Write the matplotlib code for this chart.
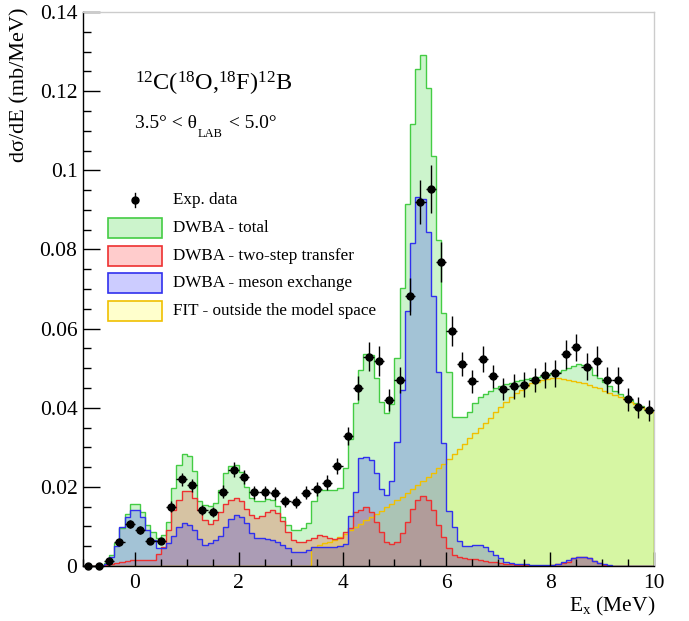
import matplotlib
matplotlib.use('Agg')
import matplotlib.pyplot as plt
import numpy as np
from matplotlib.patches import Rectangle
from matplotlib.ticker import MultipleLocator, FuncFormatter

plt.rcParams['font.family'] = ['Liberation Serif', 'DejaVu Serif']
plt.rcParams['mathtext.fontset'] = 'custom'
plt.rcParams['mathtext.rm'] = 'Liberation Serif'
plt.rcParams['mathtext.it'] = 'Liberation Serif:italic'

# ---------------- data ----------------
bin_lo = -1.0
bin_width = 0.1

dwba_total = [
    0.0, 0.0, 0.0001, 0.0003, 0.0008,
    0.0028, 0.0058, 0.0096, 0.0131, 0.0157,
    0.0157, 0.0136, 0.0104, 0.0085, 0.0072,
    0.0078, 0.0110, 0.0198, 0.0254, 0.0282,
    0.0278, 0.0240, 0.0165, 0.0155, 0.0152,
    0.0158, 0.0192, 0.0235, 0.0252, 0.0254,
    0.0238, 0.0200, 0.0171, 0.0163, 0.0165,
    0.0169, 0.0167, 0.0152, 0.0125, 0.0103,
    0.0092, 0.0091, 0.0097, 0.0108, 0.0165,
    0.0192, 0.0193, 0.0192, 0.0191, 0.0198,
    0.0247, 0.0322, 0.0411, 0.0495, 0.0537,
    0.0533, 0.0474, 0.0415, 0.0386, 0.0410,
    0.0525, 0.0702, 0.0914, 0.1116, 0.1255,
    0.1291, 0.1209, 0.1036, 0.0824, 0.0640,
    0.0491, 0.0377, 0.0377, 0.0377, 0.0390,
    0.0411, 0.0426, 0.0435, 0.0442, 0.0449,
    0.0455, 0.0460, 0.0463, 0.0467, 0.0470,
    0.0473, 0.0476, 0.0478, 0.0481, 0.0485,
    0.0487, 0.0491, 0.0495, 0.0500, 0.0505,
    0.0510, 0.0508, 0.0500, 0.0483, 0.0474,
    0.0466, 0.0455, 0.0441, 0.0434, 0.0426,
    0.0420, 0.0411, 0.0405, 0.0398, 0.0391,
]

dwba_twostep = [
    0.0, 0.0, 0.0, 0.0, 0.0002,
    0.0004, 0.0007, 0.0011, 0.0013, 0.0015,
    0.0015, 0.0015, 0.0015, 0.0016, 0.0030,
    0.0049, 0.0091, 0.0142, 0.0168, 0.0190,
    0.0190, 0.0171, 0.0142, 0.0116, 0.0106,
    0.0116, 0.0137, 0.0156, 0.0168, 0.0172,
    0.0165, 0.0145, 0.0130, 0.0122, 0.0127,
    0.0136, 0.0142, 0.0133, 0.0114, 0.0087,
    0.0066, 0.0060, 0.0061, 0.0066, 0.0072,
    0.0078, 0.0077, 0.0072, 0.0068, 0.0072,
    0.0087, 0.0095, 0.0137, 0.0142, 0.0148,
    0.0137, 0.0112, 0.0087, 0.0061, 0.0055,
    0.0061, 0.0083, 0.0112, 0.0143, 0.0167,
    0.0177, 0.0167, 0.0142, 0.0104, 0.0074,
    0.0045, 0.0028, 0.0022, 0.0019, 0.0018,
    0.0017, 0.0015, 0.0013, 0.0011, 0.0009,
    0.0007, 0.0005, 0.0004, 0.0003, 0.0003,
    0.0002, 0.0001, 0.0001, 0.0001, 0.0001,
    0.0002, 0.0004, 0.0007, 0.0011, 0.0019,
    0.0022, 0.0022, 0.0019, 0.0013, 0.0007,
    0.0003, 0.0001, 0.0001, 0.0001, 0.0001,
    0.0001, 0.0001, 0.0001, 0.0001, 0.0001,
]

dwba_meson = [
    0.0, 0.0, 0.0, 0.0, 0.0005,
    0.0024, 0.0051, 0.0098, 0.0123, 0.0142,
    0.0142, 0.0123, 0.0091, 0.0066, 0.0045,
    0.0045, 0.0057, 0.0077, 0.0098, 0.0108,
    0.0104, 0.0091, 0.0067, 0.0054, 0.0057,
    0.0066, 0.0077, 0.0098, 0.0118, 0.0129,
    0.0125, 0.0108, 0.0083, 0.0072, 0.0070,
    0.0068, 0.0066, 0.0061, 0.0053, 0.0045,
    0.0036, 0.0035, 0.0036, 0.0040, 0.0047,
    0.0049, 0.0049, 0.0047, 0.0047, 0.0050,
    0.0055, 0.0126, 0.0186, 0.0272, 0.0276,
    0.0268, 0.0234, 0.0194, 0.0180, 0.0216,
    0.0314, 0.0445, 0.0645, 0.0815, 0.0933,
    0.0928, 0.0845, 0.0682, 0.0491, 0.0310,
    0.0140, 0.0099, 0.0064, 0.0051, 0.0051,
    0.0053, 0.0053, 0.0047, 0.0039, 0.0028,
    0.0019, 0.0011, 0.0007, 0.0005, 0.0004,
    0.0004, 0.0003, 0.0003, 0.0002, 0.0002,
    0.0002, 0.0005, 0.0009, 0.0015, 0.0019,
    0.0022, 0.0022, 0.0019, 0.0013, 0.0008,
    0.0004, 0.0002, 0.0001, 0.0001, 0.0001,
    0.0001, 0.0001, 0.0001, 0.0001, 0.0001,
]

fit_outside = [
    0.0, 0.0, 0.0, 0.0, 0.0, 0.0, 0.0, 0.0, 0.0, 0.0,
    0.0, 0.0, 0.0, 0.0, 0.0, 0.0, 0.0, 0.0, 0.0, 0.0,
    0.0, 0.0, 0.0, 0.0, 0.0, 0.0, 0.0, 0.0, 0.0, 0.0,
    0.0, 0.0, 0.0, 0.0, 0.0, 0.0, 0.0, 0.0, 0.0, 0.0,
    0.0, 0.0, 0.0, 0.0,
    0.0048, 0.0053, 0.0057, 0.0060, 0.0066, 0.0074,
    0.0082, 0.0091, 0.0099, 0.0107, 0.0115,
    0.0123, 0.0132, 0.0140, 0.0148, 0.0157,
    0.0166, 0.0175, 0.0185, 0.0194, 0.0204,
    0.0214, 0.0225, 0.0236, 0.0247, 0.0258,
    0.0270, 0.0283, 0.0296, 0.0308, 0.0323,
    0.0335, 0.0348, 0.0361, 0.0373, 0.0388,
    0.0403, 0.0415, 0.0426, 0.0436, 0.0446,
    0.0455, 0.0462, 0.0466, 0.0470, 0.0473,
    0.0474, 0.0474, 0.0472, 0.0470, 0.0468,
    0.0464, 0.0462, 0.0457, 0.0453, 0.0449,
    0.0443, 0.0438, 0.0432, 0.0426, 0.0421,
    0.0415, 0.0409, 0.0403, 0.0396, 0.0390,
]

exp_E = [-0.9, -0.7, -0.5, -0.3, -0.1, 0.1, 0.3, 0.5, 0.7, 0.9,
         1.1, 1.3, 1.5, 1.7, 1.9, 2.1, 2.3, 2.5, 2.7, 2.9,
         3.1, 3.3, 3.5, 3.7, 3.9, 4.1, 4.3, 4.5, 4.7, 4.9,
         5.1, 5.3, 5.5, 5.7, 5.9, 6.1, 6.3, 6.5, 6.7, 6.9,
         7.1, 7.3, 7.5, 7.7, 7.9, 8.1, 8.3, 8.5, 8.7, 8.9,
         9.1, 9.3, 9.5, 9.7, 9.9]
exp_y = [0.0, 0.0, 0.0013, 0.0061, 0.0106, 0.0092, 0.0064, 0.0064, 0.0150, 0.0219,
         0.0204, 0.0142, 0.0137, 0.0188, 0.0243, 0.0224, 0.0186, 0.0186, 0.0184, 0.0163,
         0.0161, 0.0185, 0.0195, 0.0211, 0.0252, 0.0329, 0.0450, 0.0529, 0.0518, 0.0420,
         0.0470, 0.0682, 0.0920, 0.0953, 0.0768, 0.0594, 0.0510, 0.0467, 0.0523, 0.0479,
         0.0447, 0.0454, 0.0458, 0.0470, 0.0483, 0.0487, 0.0535, 0.0553, 0.0504, 0.0518,
         0.0470, 0.0470, 0.0421, 0.0401, 0.0393]
exp_err = [0.0002, 0.0002, 0.0005, 0.0008, 0.0010, 0.0010, 0.0008, 0.0008, 0.0013, 0.0017,
           0.0016, 0.0013, 0.0013, 0.0016, 0.0019, 0.0018, 0.0016, 0.0016, 0.0016, 0.0015,
           0.0015, 0.0016, 0.0017, 0.0018, 0.0020, 0.0022, 0.0030, 0.0037, 0.0037, 0.0028,
           0.0034, 0.0047, 0.0056, 0.0060, 0.0050, 0.0037, 0.0030, 0.0029, 0.0032, 0.0029,
           0.0028, 0.0031, 0.0032, 0.0031, 0.0033, 0.0034, 0.0036, 0.0034, 0.0035, 0.0038,
           0.0033, 0.0033, 0.0029, 0.0027, 0.0026]
exp_xerr = 0.1

x_ticks = [0, 2, 4, 6, 8, 10]
y_ticks = [0, 0.02, 0.04, 0.06, 0.08, 0.1, 0.12, 0.14]

legend_labels = ['Exp. data', 'DWBA - total', 'DWBA - two-step transfer',
                 'DWBA - meson exchange', 'FIT - outside the model space']

# ---------------- styles ----------------
series = [
    (dwba_total,   (0.0, 0.8, 0.0, 0.2), '#44cc44'),
    (fit_outside,  (1.0, 1.0, 0.0, 0.2), '#f0c000'),
    (dwba_twostep, (1.0, 0.0, 0.0, 0.2), '#ee3030'),
    (dwba_meson,   (0.0, 0.0, 1.0, 0.2), '#3030ee'),
]

W, H = 689, 621
fig = plt.figure(figsize=(W / 100, H / 100), dpi=100)
ax_l, ax_r, ax_t, ax_b = 83, 654, 12, 566
ax = fig.add_axes([ax_l / W, 1 - ax_b / H, (ax_r - ax_l) / W, (ax_b - ax_t) / H])

nb = len(dwba_total)
edges = bin_lo + bin_width * np.arange(nb + 1)

for vals, fc, ec in series:
    ax.stairs(np.asarray(vals), edges, fill=True, facecolor=fc, edgecolor='none', baseline=0)
for vals, fc, ec in series:
    ax.stairs(np.asarray(vals), edges, fill=False, color=ec, lw=1.0, baseline=0)

ax.errorbar(exp_E, exp_y, yerr=exp_err, xerr=exp_xerr, fmt='o', color='black',
            ms=5, lw=1.0, capsize=0, zorder=5, clip_on=False)

ax.set_xlim(-1, 10)
ax.set_ylim(0, 0.14)

ax.set_xticks(x_ticks)
ax.set_yticks(y_ticks)
ax.xaxis.set_minor_locator(MultipleLocator(0.5))
ax.yaxis.set_minor_locator(MultipleLocator(0.005))
ax.yaxis.set_major_formatter(FuncFormatter(lambda v, p: '%g' % round(v, 3)))
ax.tick_params(axis='both', which='both', direction='in', top=False, right=False,
               labelsize=15.5, color='black')
ax.tick_params(axis='y', which='major', length=12.5, width=1.0, pad=4)
ax.tick_params(axis='y', which='minor', length=6, width=1.0)
ax.tick_params(axis='x', which='major', length=10, width=1.0, pad=6)
ax.tick_params(axis='x', which='minor', length=5, width=1.0)
for s in ['left', 'bottom']:
    ax.spines[s].set_color('black')
    ax.spines[s].set_linewidth(1.0)
for s in ['top', 'right']:
    ax.spines[s].set_color('#cccccc')
    ax.spines[s].set_linewidth(1.0)

# axis titles
fig.text(655 / W, 1 - 606 / H, r'E$_{\mathrm{x}}$ (MeV)', ha='right', va='center', fontsize=15.5)
fig.text(20 / W, 1 - 7 / H, 'dσ/dE (mb/MeV)', rotation=90, ha='center', va='top', fontsize=16)


def axfrac(px, py):
    return ((px - ax_l) / (ax_r - ax_l), (ax_b - py) / (ax_b - ax_t))


# reaction label
x0, y0 = axfrac(135, 84)
ax.text(x0, y0, r'$^{12}$C($^{18}$O,$^{18}$F)$^{12}$B', transform=ax.transAxes,
        ha='left', va='center', fontsize=17.5)

# angular range label with a low ROOT-style subscript
renderer = fig.canvas.get_renderer()
x0, y0 = axfrac(135, 124)
t1 = ax.text(x0, y0, '3.5° < θ', transform=ax.transAxes, ha='left', va='center', fontsize=14)
bb = t1.get_window_extent(renderer=renderer)
xs = bb.x1 + 1
t2 = fig.text(xs / W, 1 - 134 / H, 'LAB', ha='left', va='center', fontsize=9)
bb2 = t2.get_window_extent(renderer=renderer)
fig.text((bb2.x1 + 1) / W, bb.y0 / H + (bb.y1 - bb.y0) / (2 * H), ' < 5.0°',
         ha='left', va='center', fontsize=14)

# legend
rows_y = [200, 228, 256, 283, 311]
box_x0, box_x1 = 108, 162
text_x = 173
legend_style = {1: series[0], 2: series[2], 3: series[3], 4: series[1]}
for i, lab in enumerate(legend_labels):
    yc = rows_y[i]
    tx, ty = axfrac(text_x, yc)
    ax.text(tx, ty, lab, transform=ax.transAxes, ha='left', va='center', fontsize=12.3)
    if i == 0:
        mx, my = axfrac(135, yc)
        _, my0 = axfrac(135, yc - 7)
        _, my1 = axfrac(135, yc + 7)
        ax.plot([mx, mx], [my0, my1], transform=ax.transAxes, color='black', lw=1.0)
        ax.plot([mx], [my], 'o', transform=ax.transAxes, color='black', ms=5)
    else:
        vals, fc, ec = legend_style[i]
        bx0, by0 = axfrac(box_x0, yc + 10)
        bx1, by1 = axfrac(box_x1, yc - 10)
        ax.add_patch(Rectangle((bx0, by0), bx1 - bx0, by1 - by0, transform=ax.transAxes,
                               facecolor=fc, edgecolor=ec, lw=1.2))

fig.savefig('out.png', dpi=100)
